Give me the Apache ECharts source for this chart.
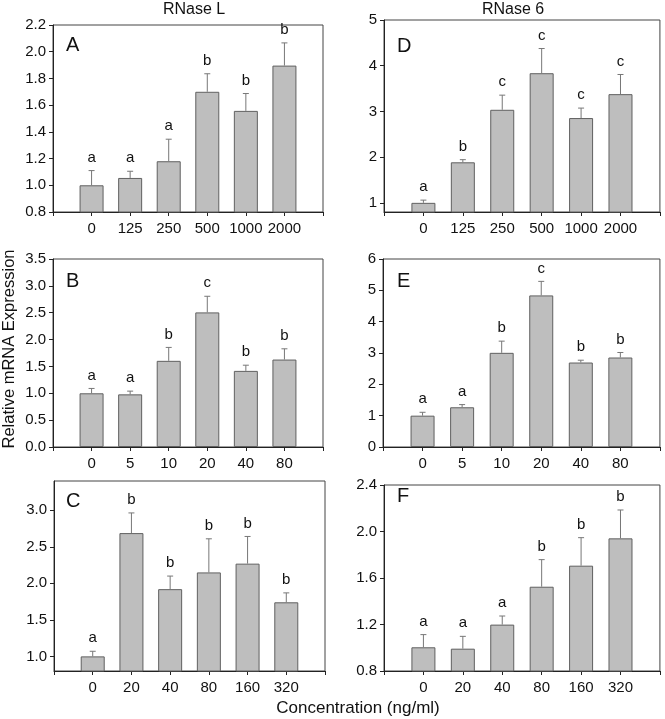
<!DOCTYPE html>
<html>
<head>
<meta charset="utf-8">
<script src="https://cdn.jsdelivr.net/npm/echarts@6/dist/echarts.min.js"></script>
<style>
html,body{margin:0;padding:0;background:#fff;}
#chart{width:665px;height:719px;}
</style>
</head>
<body>
<div id="chart"></div>
<script>
// ---- data ----
const catsA = ['0','125','250','500','1000','2000'];
const valsA = [1.00, 1.055, 1.18, 1.70, 1.557, 1.896];
const errA  = [0.11, 0.05, 0.165, 0.135, 0.13, 0.17];
const letA  = ['a','a','a','b','b','b'];

const catsD = ['0','125','250','500','1000','2000'];
const valsD = [1.00, 1.887, 3.036, 3.836, 2.855, 3.378];
const errD  = [0.06, 0.058, 0.32, 0.54, 0.218, 0.43];
const letD  = ['a','b','c','c','c','c'];

const catsB = ['0','5','10','20','40','80'];
const valsB = [1.00, 0.98, 1.604, 2.506, 1.417, 1.628];
const errB  = [0.09, 0.06, 0.25, 0.30, 0.106, 0.20];
const letB  = ['a','a','b','c','b','b'];

const catsE = ['0','5','10','20','40','80'];
const valsE = [1.00, 1.268, 3.005, 4.838, 2.696, 2.856];
const errE  = [0.108, 0.085, 0.373, 0.448, 0.074, 0.16];
const letE  = ['a','a','b','c','b','b'];

const catsC = ['0','20','40','80','160','320'];
const valsC = [1.00, 2.687, 1.92, 2.149, 2.269, 1.74];
const errC  = [0.07, 0.276, 0.179, 0.46, 0.372, 0.129];
const letC  = ['a','b','b','b','b','b'];

const catsF = ['0','20','40','80','160','320'];
const valsF = [1.004, 0.992, 1.199, 1.525, 1.706, 1.941];
const errF  = [0.109, 0.106, 0.074, 0.233, 0.241, 0.244];
const letF  = ['a','a','a','b','b','b'];

const titleL = 'RNase L';
const title6 = 'RNase 6';
const yName = 'Relative mRNA Expression';
const xName = 'Concentration (ng/ml)';

// ---- layout ----
const FONT = "'Liberation Sans', Arial, sans-serif";
const panels = [
  {tag:'A', cats:catsA, vals:valsA, err:errA, let:letA, grid:{left:53,right:342,top:25,bottom:507},
   y:{min:0.8,max:2.2,interval:0.2,dec:1}, tagPos:[66,46]},
  {tag:'D', cats:catsD, vals:valsD, err:errD, let:letD, grid:{left:384,right:1,top:20,bottom:507},
   y:{min:0.8,max:5,custom:[1,2,3,4,5],dec:0}, tagPos:[397,47]},
  {tag:'B', cats:catsB, vals:valsB, err:errB, let:letB, grid:{left:53,right:342,top:259,bottom:272},
   y:{min:0,max:3.5,interval:0.5,dec:1}, tagPos:[66,282]},
  {tag:'E', cats:catsE, vals:valsE, err:errE, let:letE, grid:{left:383,right:1,top:259,bottom:272},
   y:{min:0,max:6,interval:1,dec:0}, tagPos:[397,282]},
  {tag:'C', cats:catsC, vals:valsC, err:errC, let:letC, grid:{left:54,right:340,top:481,bottom:48},
   y:{min:0.8,max:3.4,custom:[1,1.5,2,2.5,3],dec:1}, tagPos:[66,502]},
  {tag:'F', cats:catsF, vals:valsF, err:errF, let:letF, grid:{left:384,right:3,top:485,bottom:48},
   y:{min:0.8,max:2.4,interval:0.4,dec:1}, tagPos:[397,497]}
];

const grids = [], xAxes = [], yAxes = [], series = [], graphics = [];
panels.forEach((p, i) => {
  grids.push(Object.assign({show:true, borderColor:'#444', borderWidth:1, backgroundColor:'transparent'}, p.grid));
  xAxes.push({
    type:'category', gridIndex:i, boundaryGap:false,
    data:[''].concat(p.cats).concat([' ']),
    axisLine:{show:true, lineStyle:{color:'#222', width:1}},
    axisTick:{show:true, inside:false, length:4, lineStyle:{color:'#222'}},
    axisLabel:{color:'#111', fontSize:15, fontFamily:FONT, margin:9, interval:0},
    splitLine:{show:false}
  });
  const ya = {
    type:'value', gridIndex:i, min:p.y.min, max:p.y.max,
    axisLine:{show:true, lineStyle:{color:'#222', width:1}},
    axisTick:{show:true, inside:false, length:4, lineStyle:{color:'#222'}},
    axisLabel:{color:'#111', fontSize:15, fontFamily:FONT, margin:7,
      formatter:(v)=>Number(v).toFixed(p.y.dec)},
    splitLine:{show:false}
  };
  if (p.y.custom) {
    ya.axisTick.customValues = p.y.custom;
    ya.axisLabel.customValues = p.y.custom;
  } else {
    ya.interval = p.y.interval;
  }
  yAxes.push(ya);
  series.push({
    type:'bar', xAxisIndex:i, yAxisIndex:i, barWidth:24,
    data:[null].concat(p.vals).concat([null]),
    itemStyle:{color:'#bebebe', borderColor:'#606060', borderWidth:1},
    silent:true, animation:false
  });
  series.push({
    type:'custom', xAxisIndex:i, yAxisIndex:i, silent:true, animation:false, z:5,
    data:p.vals.map((v, k) => [k + 1, v, v + p.err[k], k]),
    renderItem:(params, api) => {
      const k = api.value(3);
      const base = api.coord([api.value(0), api.value(1)]);
      const top = api.coord([api.value(0), api.value(2)]);
      return {
        type:'group',
        children:[
          {type:'line', shape:{x1:base[0], y1:base[1], x2:top[0], y2:top[1]}, style:{stroke:'#777', lineWidth:1}},
          {type:'line', shape:{x1:top[0]-3, y1:top[1], x2:top[0]+3, y2:top[1]}, style:{stroke:'#777', lineWidth:1}},
          {type:'text', style:{x:top[0], y:top[1]-13, text:p.let[k], textAlign:'center', textVerticalAlign:'middle',
            font:'15px ' + FONT, fill:'#111'}}
        ]
      };
    }
  });
  graphics.push({type:'text', left:p.tagPos[0], top:p.tagPos[1]-11,
    style:{text:p.tag, font:'20px ' + FONT, fill:'#111'}});
});

graphics.push({type:'text', x:194, y:10, style:{text:titleL, font:'16px ' + FONT, fill:'#111', textAlign:'center', textVerticalAlign:'middle'}});
graphics.push({type:'text', x:513, y:10, style:{text:title6, font:'16px ' + FONT, fill:'#111', textAlign:'center', textVerticalAlign:'middle'}});
graphics.push({type:'text', x:358, y:708, style:{text:xName, font:'17px ' + FONT, fill:'#111', textAlign:'center', textVerticalAlign:'middle'}});
graphics.push({type:'text', x:9, y:349, rotation:Math.PI/2, style:{text:yName, font:'16.5px ' + FONT, fill:'#111', textAlign:'center', textVerticalAlign:'middle'}});

const chart = echarts.init(document.getElementById('chart'), null, {renderer:'canvas'});
chart.setOption({
  animation:false,
  backgroundColor:'#fff',
  grid:grids, xAxis:xAxes, yAxis:yAxes, series:series, graphic:graphics
});
</script>
</body>
</html>
